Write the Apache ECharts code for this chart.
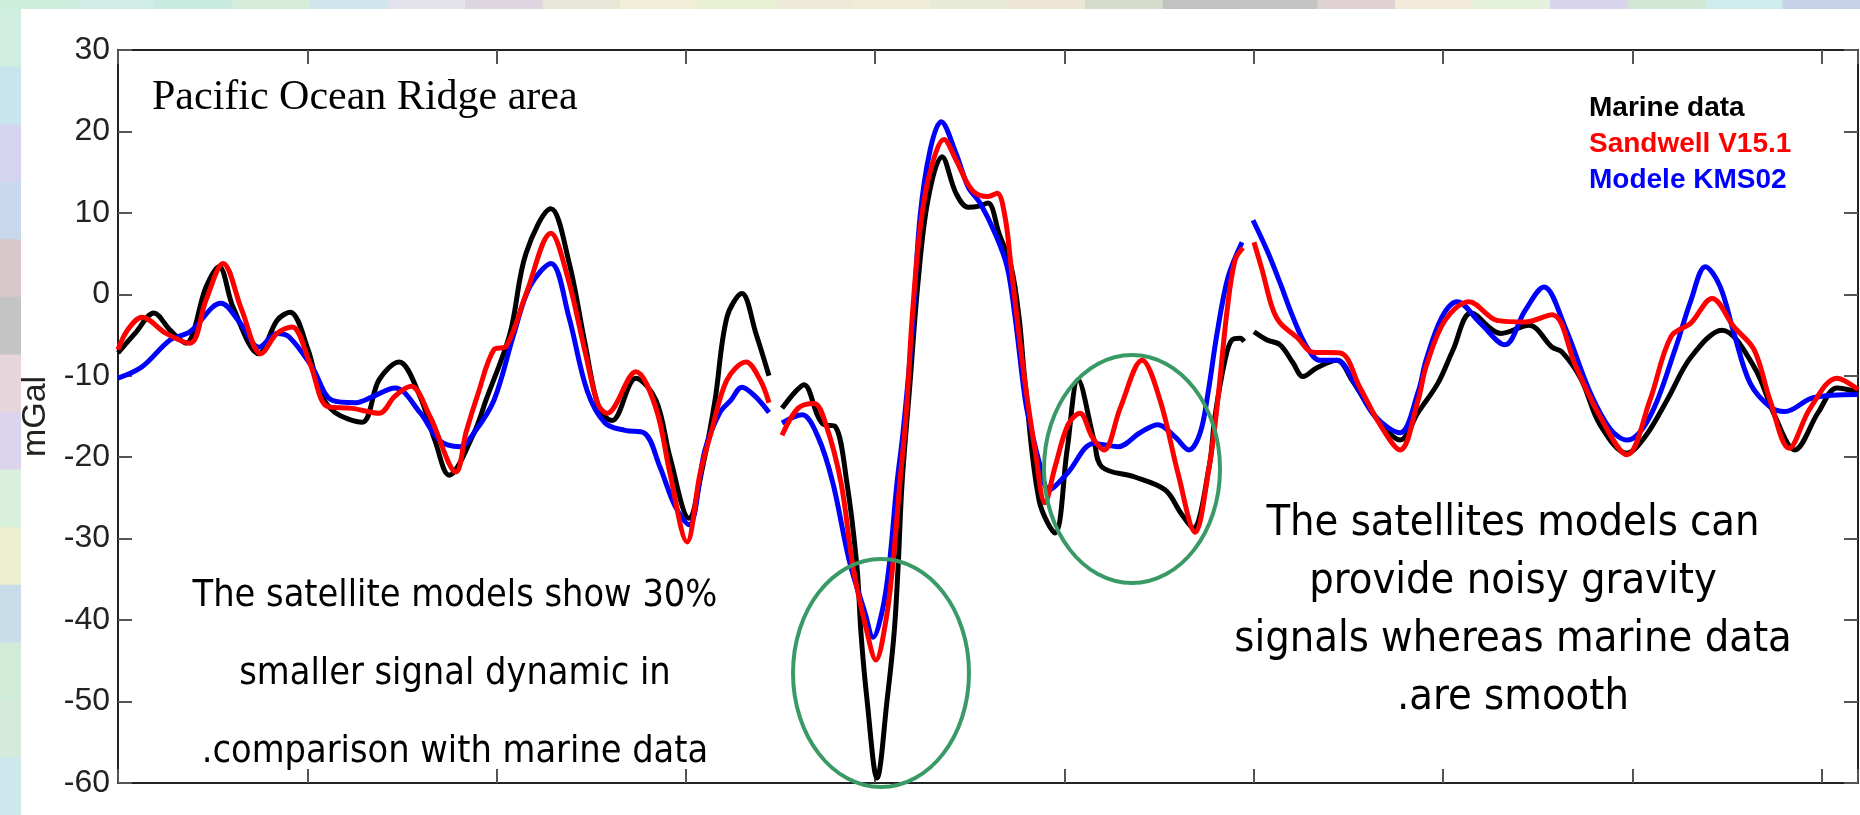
<!DOCTYPE html>
<html>
<head>
<meta charset="utf-8">
<title>Pacific Ocean Ridge area</title>
<script src="https://cdn.jsdelivr.net/npm/echarts@6.0.0/dist/echarts.min.js"></script>
<style>
  html, body { margin: 0; padding: 0; background: #fff; }
  #chart { width: 1860px; height: 815px; }
</style>
</head>
<body>
<div id="chart"></div>
<script>
// profile distance (axis units, one tick = 100) and gravity anomaly in mGal
// null rows are the data gaps along the track
const marine = [
  [0, -7.2], [9.0, -4.8], [19.0, -2.3], [27.5, -4.4], [35.9, -6.0], [46.5, 0.9], [53.4, 3.4],
  [60.8, -1.6], [74.5, -7.3], [84.0, -3.2], [90.9, -2.2], [100.4, -6.8], [106.7, -12],
  [114.6, -14.5], [128.9, -15.7], [137.9, -10.5], [148.4, -8.3], [159.5, -12.5], [167.5, -18],
  [174.9, -22.2], [188.1, -17], [194.4, -13], [207.1, -4.8], [215.5, 5], [228.7, 10.5],
  [238.2, 4.0], [246.7, -6.0], [254.1, -14.0], [261.0, -15.5], [273.6, -10.3], [284.2, -13],
  [291.6, -20], [301.6, -27.5], [309.0, -21], [315.4, -13], [321.7, -2.8], [329.6, 0.1],
  [337.0, -4.8], [343.9, -10],
  [347.4, null],
  [350.8, -14], [357.7, -12], [362.4, -11.1], [369.8, -15], [373.0, -16], [378.8, -16.2],
  [385.1, -23.2], [390.4, -33.5], [392.5, -41.6], [395.7, -49.8], [401.0, -59.4],
  [406.3, -49.8], [410.0, -41.6], [412.1, -33.5], [414.2, -23.2], [418.4, -10.9], [422.6, 1.4],
  [427.9, 11.6], [435.3, 16.9], [442.7, 12.4], [449.1, 10.7], [454.3, 10.8], [459.6, 11.2],
  [465.4, 7.5], [471.8, 3.4], [476.0, -2.8], [479.2, -10.9], [486.6, -25.3], [495.0, -29.3],
  [501.4, -19.1], [507.2, -10.5], [515.6, -17.9], [519.8, -21.2], [536.8, -22.4], [553.1, -24],
  [561.6, -26.9], [567.9, -28.7], [576.4, -21.2], [579.5, -15], [584.8, -8.1], [588.5, -5.6],
  [592.8, -5.4], [594.9, -5.8],
  [597.5, null],
  [600.1, -4.6], [607.0, -5.6], [613.9, -6.2], [620.7, -8.4], [626.0, -10.1], [633.4, -9.0],
  [644.0, -8.1], [651.8, -10.5], [661.3, -14], [669.3, -16.5], [677.3, -17.9], [686.8, -14.5],
  [697.3, -10.9], [705.3, -6.8], [714.8, -2.3], [730.6, -4.8], [745.4, -3.8], [757.6, -6.5],
  [762.9, -7.1], [772.9, -10.4], [782.9, -16], [797.2, -19.5], [806.7, -17.5], [818.3, -13],
  [831.0, -7.7], [847.4, -4.4], [864.3, -8.9], [875.4, -15], [885.8, -19.1], [898.2, -14.5],
  [908.1, -11.5], [919.2, -12]
];

const sandwell = [
  [0, -6.8], [5.3, -4.3], [12.7, -2.8], [25.4, -4.8], [38.0, -6.0], [46.5, -0.7], [55.5, 3.8],
  [65.5, -2.0], [75.5, -7.3], [84.0, -4.8], [91.9, -4.0], [101.4, -8.5], [110.9, -13.8],
  [123.6, -14.0], [137.9, -14.6], [146.3, -12.5], [154.8, -11.3], [164.8, -15], [178.6, -21.8],
  [183.8, -17], [190.2, -12.2], [198.6, -6.8], [205.0, -6.4], [215.5, 0], [228.7, 7.5],
  [237.2, 2.4], [246.7, -7], [253.6, -13.5], [258.3, -14.6], [273.6, -9.5], [284.2, -14],
  [291.6, -22], [300.6, -30.4], [307.5, -22], [313.3, -17], [321.7, -10.5], [331.8, -8.3],
  [339.2, -10.5], [343.9, -13.3],
  [347.4, null],
  [350.8, -17.3], [359.2, -14], [367.7, -13.4], [374.0, -16], [382.0, -23.2], [388.3, -33.5],
  [395.2, -41], [400.4, -44.9], [405.7, -40], [409.4, -33], [413.1, -23], [416.3, -15],
  [419.5, -3], [423.7, 8], [429.0, 15], [436.4, 19.0], [442.7, 16.5], [451.2, 12.8],
  [459.6, 12.0], [464.4, 12.4], [468.6, 9.5], [471.8, 3.4], [474.9, -2.8], [479.2, -10.9],
  [484.4, -19], [489.7, -25.6], [495.0, -21.2], [501.9, -16], [508.2, -14.6], [514.6, -17.5],
  [520.9, -19.1], [529.4, -14], [541.0, -8.1], [550.5, -13], [560.0, -22], [569.0, -29.2],
  [576.4, -21.2], [580.6, -13.8], [585.9, -2], [590.1, 4.2], [594.3, 5.7],
  [597.5, null],
  [600.1, 6.4], [604.4, 3.0], [609.7, -1.6], [613.9, -3.5], [622.9, -5.3], [631.3, -7.1],
  [645.6, -7.2], [656.2, -11.5], [666.7, -16], [677.3, -19.1], [686.8, -13], [691.0, -8.9],
  [701.0, -3.2], [713.7, -0.9], [728.5, -3.2], [743.3, -3.4], [757.6, -2.5], [770.2, -8.9],
  [782.9, -15], [797.2, -19.7], [809.3, -13], [820.4, -5.2], [831.0, -3.5], [842.1, -0.5],
  [853.7, -4], [864.3, -6.8], [872.7, -13], [882.8, -18.9], [893.9, -14], [908.1, -10.3],
  [919.2, -11.7]
];

const kms02 = [
  [0, -10.3], [12.7, -8.9], [27.5, -5.6], [38.0, -4.6], [54.4, -1.1], [64.5, -3.5],
  [74.5, -6.5], [84.0, -4.8], [90.3, -5.2], [102.5, -8.9], [113.1, -13], [125.7, -13.3],
  [134.2, -12.6], [146.3, -11.5], [159.5, -14.5], [170.1, -18], [180.7, -18.7], [188.1, -17],
  [198.6, -13], [209.2, -4.8], [217.7, 1], [228.7, 3.8], [238.2, -2.8], [247.8, -11.8],
  [257.3, -15.8], [267.8, -16.7], [277.9, -17], [286.3, -21.2], [294.3, -26], [301.6, -28.3],
  [310.1, -19.1], [318.0, -14.5], [323.8, -13], [329.6, -11.4], [336.5, -12.5], [343.9, -14.5],
  [347.4, null],
  [350.8, -15.8], [361.4, -14.8], [369.8, -17.5], [377.7, -23.2], [386.2, -32.6],
  [394.6, -39.1], [398.9, -42.1], [403.6, -39], [407.3, -33.5], [411.5, -23.2], [414.7, -17],
  [419.5, -4.8], [423.7, 9.5], [429.0, 17.7], [434.8, 21.2], [442.7, 17.3], [449.1, 13.2],
  [455.4, 11.2], [463.3, 7.5], [469.7, 3.4], [473.9, -2.8], [478.1, -10.9], [480.2, -14.2],
  [487.1, -21], [491.8, -24], [501.4, -22], [515.6, -18.3], [528.3, -18.7], [539.9, -17],
  [549.4, -16], [558.4, -17.5], [565.8, -19.1], [571.7, -17], [575.9, -12], [580.6, -4.8],
  [586.4, 2.1], [593.8, 6.4],
  [597.0, null],
  [599.6, 9.1], [607.0, 5.4], [613.9, 1.4], [620.7, -2.8], [628.1, -6.5], [635.0, -8.1],
  [644.0, -8.1], [653.5, -11], [664.1, -15], [677.3, -17], [686.8, -12], [691.0, -8.1],
  [699.4, -2.8], [707.4, -0.9], [719.5, -3.5], [732.7, -6.2], [743.3, -2], [753.3, 0.9],
  [764.4, -4], [777.6, -12], [788.2, -16.5], [797.2, -17.9], [809.3, -15], [822.5, -6.8],
  [831.0, -0.7], [838.6, 3.4], [846.3, 1], [853.7, -4.8], [862.2, -10.9], [872.7, -13.8],
  [880.6, -14.4], [895.5, -12.7], [919.2, -12.3]
];

const seriesNames = ['Marine data', 'Sandwell V15.1', 'Modele KMS02'];
const seriesColors = ['#000000', '#ff0000', '#0000ff'];

const noteLeft = 'The satellite models show 30%\nsmaller signal dynamic in\n.comparison with marine data';
const noteRight = 'The satellites models can\nprovide noisy gravity\nsignals whereas marine data\n.are smooth';

// pastel mosaic strips around the slide
const topStrip = ['#cdeedd', '#d0ece6', '#c9eadf', '#d4ecd8', '#cfe6ec', '#e4e2ea', '#ddd6e0',
  '#e8e6d6', '#f0eed6', '#e8f0d4', '#ecead6', '#f0ecd8', '#e6ead6', '#ede6d6', '#d6dccc',
  '#c2c2c2', '#c4c4c4', '#e0d2d2', '#f2eada', '#e4f2dc', '#d8d4ec', '#d2e6d6', '#cfecec', '#c6d2ea'];
const leftStrip = ['#cfeee0', '#c8e4ec', '#d4d4f0', '#c8d8ec', '#d8c8cc', '#c4c4c4', '#e6d6dc',
  '#dcd4ee', '#d8f0dc', '#eeeed0', '#c8dcea', '#d0ecd8', '#d6eadc', '#cce8ec'];

const sansFont = "'Liberation Sans', Arial, sans-serif";
const noteFont = "'DejaVu Sans Condensed', 'DejaVu Sans', sans-serif";

const chart = echarts.init(document.getElementById('chart'));

const deco = [];
const tw = 1860 / topStrip.length;
topStrip.forEach((c, i) => {
  deco.push({ type: 'rect', z: -10, shape: { x: i * tw, y: 0, width: tw + 1, height: 9 }, style: { fill: c } });
});
const lh = (815 - 9) / leftStrip.length;
leftStrip.forEach((c, i) => {
  deco.push({ type: 'rect', z: -10, shape: { x: 0, y: 9 + i * lh, width: 21, height: lh + 1 }, style: { fill: c } });
});

const axisLine = { show: true, onZero: false, lineStyle: { color: '#222', width: 2 } };
const axisTick = { show: true, inside: true, length: 14, lineStyle: { color: '#555', width: 2 } };

const option = {
  animation: false,
  backgroundColor: '#ffffff',
  grid: { left: 118, right: 2, top: 50, bottom: 32, containLabel: false },
  legend: {
    orient: 'vertical',
    left: 1579,
    top: 89,
    icon: 'none',
    itemWidth: 0,
    itemGap: 8,
    textStyle: { fontSize: 28, fontWeight: 'bold', fontFamily: sansFont },
    data: seriesNames.map((n, i) => ({ name: n, textStyle: { color: seriesColors[i] } }))
  },
  xAxis: [
    { type: 'value', min: 0, max: 919.2, interval: 100, position: 'bottom',
      axisLine, axisTick, axisLabel: { show: false }, splitLine: { show: false } },
    { type: 'value', min: 0, max: 919.2, interval: 100, position: 'top',
      axisLine, axisTick, axisLabel: { show: false }, splitLine: { show: false } }
  ],
  yAxis: [
    { type: 'value', min: -60, max: 30, interval: 10, position: 'left',
      axisLine, axisTick, splitLine: { show: false },
      axisLabel: { fontSize: 32, color: '#222', margin: 8, fontFamily: sansFont },
      name: 'mGal', nameLocation: 'middle', nameRotate: 90, nameGap: 48,
      nameTextStyle: { fontSize: 34, color: '#222', fontFamily: sansFont } },
    { type: 'value', min: -60, max: 30, interval: 10, position: 'right',
      axisLine, axisTick, splitLine: { show: false }, axisLabel: { show: false } }
  ],
  series: [marine, kms02, sandwell].map((d, k) => {
    const idx = [0, 2, 1][k];
    return {
      name: seriesNames[idx],
      type: 'line',
      data: d,
      symbol: 'none',
      smooth: 0.35,
      connectNulls: false,
      lineStyle: { color: seriesColors[idx], width: 5 },
      itemStyle: { color: seriesColors[idx] },
      z: 2 + k
    };
  }),
  graphic: deco.concat([
    { type: 'text', x: 152, y: 98, z: 20,
      style: { text: 'Pacific Ocean Ridge area', font: "42px 'Liberation Serif', 'Times New Roman', serif",
        fill: '#000', align: 'left', verticalAlign: 'middle' } },
    { type: 'text', x: 455, y: 674, z: 20,
      style: { text: noteLeft, fontSize: 37.5, fontFamily: noteFont, lineHeight: 78,
        fill: '#000', align: 'center', verticalAlign: 'middle' } },
    { type: 'text', x: 1513, y: 611, z: 20,
      style: { text: noteRight, fontSize: 43, fontFamily: noteFont, lineHeight: 58,
        fill: '#000', align: 'center', verticalAlign: 'middle' } },
    { type: 'ellipse', z: 30, shape: { cx: 881, cy: 673, rx: 88, ry: 114 },
      style: { fill: 'transparent', stroke: '#3a9a66', lineWidth: 4 } },
    { type: 'ellipse', z: 30, shape: { cx: 1132, cy: 469, rx: 88, ry: 114 },
      style: { fill: 'transparent', stroke: '#3a9a66', lineWidth: 4 } }
  ])
};

chart.setOption(option);
</script>
</body>
</html>
